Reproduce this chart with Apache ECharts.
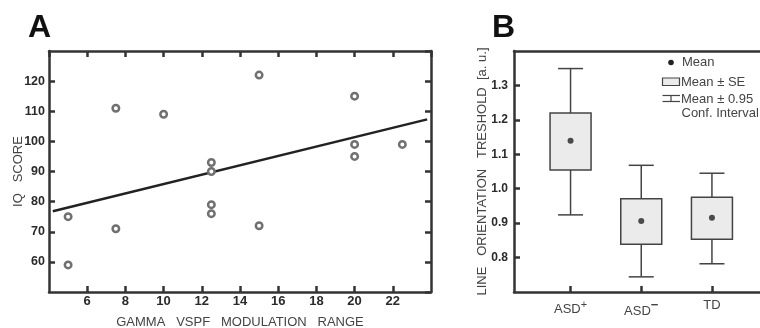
<!DOCTYPE html>
<html><head><meta charset="utf-8">
<script src="https://cdn.jsdelivr.net/npm/echarts@6/dist/echarts.min.js"></script>
<style>html,body{margin:0;padding:0;background:#fff}#c{width:760px;height:328px}</style>
</head><body><div id="c"></div>
<script>
// ---- Panel A data ----
const scatterX = [5, 5, 7.5, 7.5, 10, 12.5, 12.5, 12.5, 12.5, 15, 15, 20, 20, 20, 22.5];
const scatterY = [75, 59, 111, 71, 109, 93, 90, 79, 76, 122, 72, 115, 99, 95, 99];
const fitLineX = [4.2, 23.8];
const fitLineY = [76.8, 107.3];
// ---- Panel B data ----
const groupNames = ['ASD+', 'ASD−', 'TD'];
const groupPos = [1, 2, 3];
const groupMean = [1.139, 0.906, 0.916];
const groupSeLow = [1.054, 0.839, 0.853];
const groupSeHigh = [1.220, 0.971, 0.975];
const groupCiLow = [0.924, 0.744, 0.782];
const groupCiHigh = [1.349, 1.068, 1.045];

const FRAME = '#333';
const TXT = '#444';
const NARROW = '"Liberation Sans Narrow","Arial Narrow","Liberation Sans",Arial,sans-serif';
const SANS = '"Liberation Sans",Arial,Helvetica,sans-serif';

const chart = echarts.init(document.getElementById('c'), null, {renderer: 'canvas'});

const frameAxisBase = {
  axisLine: {show: true, onZero: false, lineStyle: {color: FRAME, width: 2.5}},
  splitLine: {show: false},
};
const tickStyle = {show: true, inside: true, length: 6, lineStyle: {color: FRAME, width: 2.5}};
const numLabel = {color: '#2a2a2a', fontFamily: NARROW, fontWeight: 'bold', fontSize: 12.5};

const groupLabel = function (v) {
  const i = groupPos.indexOf(v);
  if (i < 0) return '';
  const n = groupNames[i];
  if (n === 'ASD+') return '{b|ASD}{p|+}';
  if (n === 'ASD−') return '{b|ASD}{m|−}';
  return '{b|' + n + '}';
};

const option = {
  animation: false,
  backgroundColor: '#fff',
  grid: [
    {left: 49, top: 51, width: 382, height: 241, containLabel: false, outerBoundsMode: 'none'},
    {left: 514, top: 51, width: 254.5, height: 241, containLabel: false, outerBoundsMode: 'none'}
  ],
  xAxis: [
    Object.assign({}, frameAxisBase, {
      type: 'value', gridIndex: 0, position: 'bottom', min: 4, max: 24, interval: 2,
      axisTick: tickStyle,
      axisLabel: Object.assign({}, numLabel, {fontSize: 13, showMinLabel: false, showMaxLabel: false, margin: 3}),
      name: 'GAMMA   VSPF   MODULATION   RANGE', nameLocation: 'middle', nameGap: 23.5,
      nameMoveOverlap: false,
      nameTextStyle: {color: TXT, fontFamily: SANS, fontSize: 13}
    }),
    Object.assign({}, frameAxisBase, {
      type: 'value', gridIndex: 0, position: 'top', min: 4, max: 24, interval: 2,
      axisTick: tickStyle, axisLabel: {show: false}
    }),
    Object.assign({}, frameAxisBase, {
      type: 'value', gridIndex: 1, position: 'bottom', min: 0.2, max: 3.8,
      axisTick: Object.assign({}, tickStyle, {customValues: groupPos}),
      axisLabel: {
        customValues: groupPos, margin: 7, formatter: groupLabel,
        rich: {
          b: {color: TXT, fontFamily: SANS, fontSize: 13},
          p: {color: TXT, fontFamily: SANS, fontSize: 11, padding: [0, 0, 10, 0]},
          m: {color: TXT, fontFamily: SANS, fontSize: 13, fontWeight: 'bold', padding: [0, 0, 12, 0]}
        }
      }
    }),
    Object.assign({}, frameAxisBase, {
      type: 'value', gridIndex: 1, position: 'top', min: 0.2, max: 3.8,
      axisTick: {show: false}, axisLabel: {show: false}
    })
  ],
  yAxis: [
    Object.assign({}, frameAxisBase, {
      type: 'value', gridIndex: 0, position: 'left', min: 50, max: 130, interval: 10,
      axisTick: tickStyle,
      axisLabel: Object.assign({}, numLabel, {showMinLabel: false, showMaxLabel: false, margin: 4}),
      name: 'IQ   SCORE', nameLocation: 'middle', nameGap: 24.5, nameMoveOverlap: false,
      nameTextStyle: {color: TXT, fontFamily: SANS, fontSize: 13}
    }),
    Object.assign({}, frameAxisBase, {
      type: 'value', gridIndex: 0, position: 'right', min: 50, max: 130, interval: 10,
      axisTick: tickStyle, axisLabel: {show: false}
    }),
    Object.assign({}, frameAxisBase, {
      type: 'value', gridIndex: 1, position: 'left', min: 0.7, max: 1.4, interval: 0.1,
      axisTick: tickStyle,
      axisLabel: Object.assign({}, numLabel, {fontSize: 12, showMinLabel: false, showMaxLabel: false, margin: 6,
        formatter: v => v.toFixed(1)}),
      name: 'LINE   ORIENTATION   TRESHOLD  [a. u.]', nameLocation: 'middle', nameGap: 25,
      nameMoveOverlap: false,
      nameTextStyle: {color: TXT, fontFamily: SANS, fontSize: 13}
    })
  ],
  series: [
    {
      type: 'line', xAxisIndex: 0, yAxisIndex: 0, symbol: 'none', silent: true,
      data: fitLineX.map((x, i) => [x, fitLineY[i]]),
      lineStyle: {color: '#222', width: 2.5}, z: 3
    },
    {
      type: 'scatter', xAxisIndex: 0, yAxisIndex: 0,
      data: scatterX.map((x, i) => [x, scatterY[i]]),
      symbol: 'circle', symbolSize: 6.5,
      itemStyle: {color: '#fff', borderColor: '#707070', borderWidth: 2.5, opacity: 1}, z: 4
    },
    {
      type: 'custom', xAxisIndex: 2, yAxisIndex: 2,
      data: groupPos.map((x, i) => [x, groupCiLow[i], groupSeLow[i], groupSeHigh[i], groupCiHigh[i]]),
      renderItem: function (params, api) {
        const x = api.value(0);
        const lo = api.coord([x, api.value(1)]);
        const q1 = api.coord([x, api.value(2)]);
        const q3 = api.coord([x, api.value(3)]);
        const hi = api.coord([x, api.value(4)]);
        const bw = 41, cw = 25;
        const st = {stroke: '#444', lineWidth: 1.5, fill: null};
        return {type: 'group', children: [
          {type: 'line', shape: {x1: lo[0], y1: lo[1], x2: hi[0], y2: hi[1]}, style: st},
          {type: 'line', shape: {x1: lo[0] - cw / 2, y1: lo[1], x2: lo[0] + cw / 2, y2: lo[1]}, style: st},
          {type: 'line', shape: {x1: hi[0] - cw / 2, y1: hi[1], x2: hi[0] + cw / 2, y2: hi[1]}, style: st},
          {type: 'rect', shape: {x: q3[0] - bw / 2, y: q3[1], width: bw, height: q1[1] - q3[1]},
            style: {fill: '#ebebeb', stroke: '#444', lineWidth: 1.5}}
        ]};
      }, z: 2
    },
    {
      type: 'scatter', xAxisIndex: 2, yAxisIndex: 2,
      data: groupPos.map((x, i) => [x, groupMean[i]]),
      symbol: 'circle', symbolSize: 6,
      itemStyle: {color: '#222'}, z: 5
    }
  ],
  graphic: [
    {type: 'text', left: 28, top: 12, style: {text: 'A', font: 'bold 32px "Liberation Sans", Arial, sans-serif', fill: '#111'}},
    {type: 'text', left: 492, top: 12, style: {text: 'B', font: 'bold 32px "Liberation Sans", Arial, sans-serif', fill: '#111'}},
    // legend (panel B)
    {type: 'circle', shape: {cx: 671, cy: 62.5, r: 2.8}, style: {fill: '#222'}},
    {type: 'text', x: 682, y: 62.5, style: {text: 'Mean', font: '13px "Liberation Sans", Arial, sans-serif', fill: TXT, verticalAlign: 'middle'}},
    {type: 'rect', shape: {x: 662.5, y: 78, width: 17, height: 7.5}, style: {fill: '#ebebeb', stroke: '#444', lineWidth: 1.2}},
    {type: 'text', x: 681, y: 82, style: {text: 'Mean ± SE', font: '13px "Liberation Sans", Arial, sans-serif', fill: TXT, verticalAlign: 'middle'}},
    {type: 'line', shape: {x1: 662.5, y1: 95.5, x2: 680, y2: 95.5}, style: {stroke: '#444', lineWidth: 1.2}},
    {type: 'line', shape: {x1: 671, y1: 95.5, x2: 671, y2: 101.5}, style: {stroke: '#444', lineWidth: 1.2}},
    {type: 'line', shape: {x1: 662.5, y1: 101.5, x2: 680, y2: 101.5}, style: {stroke: '#444', lineWidth: 1.2}},
    {type: 'text', x: 681, y: 99, style: {text: 'Mean ± 0.95', font: '13px "Liberation Sans", Arial, sans-serif', fill: TXT, verticalAlign: 'middle'}},
    {type: 'text', x: 681.5, y: 113.5, style: {text: 'Conf. Interval', font: '13px "Liberation Sans", Arial, sans-serif', fill: TXT, verticalAlign: 'middle'}}
  ]
};
chart.setOption(option);
</script>
</body></html>
